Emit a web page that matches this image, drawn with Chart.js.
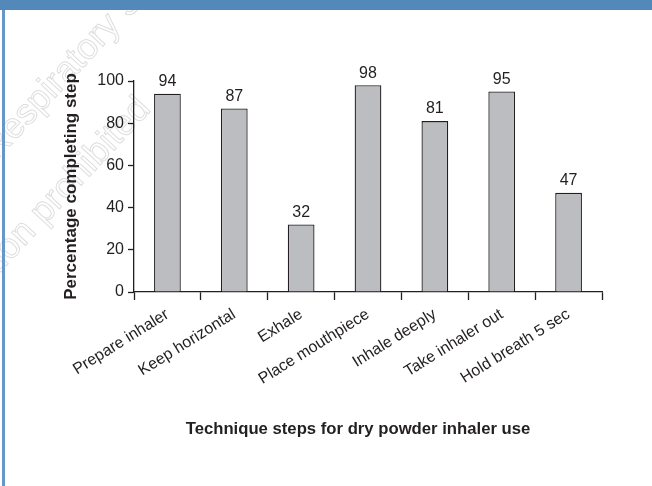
<!DOCTYPE html>
<html>
<head>
<meta charset="utf-8">
<script src="https://cdn.jsdelivr.net/npm/chart.js@4.4.0/dist/chart.umd.min.js"></script>
<style>
  html, body { margin: 0; padding: 0; background: #ffffff; }
  #wrap { width: 652px; height: 486px; position: relative; }
</style>
</head>
<body>
<div id="wrap"><canvas id="c" width="652" height="486"></canvas></div>
<script>
// ---- Data ----
const steps = ["Prepare inhaler", "Keep horizontal", "Exhale", "Place mouthpiece", "Inhale deeply", "Take inhaler out", "Hold breath 5 sec"];
const percentCompleting = [94, 87, 32, 98, 81, 95, 47];
const yTicks = [0, 20, 40, 60, 80, 100];
const yAxisTitle = "Percentage completing step";
const xAxisTitle = "Technique steps for dry powder inhaler use";
const watermarkLines = ["Respiratory Society", "reproduction prohibited"];

const INK = "#231f20";
const FONT = "'Liberation Sans', Arial, Helvetica, sans-serif";

function drawWatermark(ctx, text, prefix, ax, ay, angleDeg) {
  const a = angleDeg * Math.PI / 180;
  const w = ctx.measureText(prefix).width;
  const sx = ax - w * Math.cos(a);
  const sy = ay + w * Math.sin(a);
  ctx.save();
  ctx.translate(sx, sy);
  ctx.rotate(-a);
  ctx.strokeText(text, 0, 0);
  ctx.restore();
}

const decorPlugin = {
  id: "decor",
  beforeDraw(chart) {
    const ctx = chart.ctx;
    ctx.save();
    ctx.fillStyle = "#ffffff";
    ctx.fillRect(0, 0, chart.width, chart.height);
    // faint watermark (outlined)
    ctx.strokeStyle = "#dedede";
    ctx.lineWidth = 1;
    ctx.font = "36px " + FONT;
    ctx.textBaseline = "alphabetic";
    ctx.textAlign = "left";
    drawWatermark(ctx, watermarkLines[0], "R", 14, 142, 47);
    drawWatermark(ctx, watermarkLines[1], "reproducti", 10, 262, 47);
    ctx.restore();
  },
  afterDraw(chart) {
    const ctx = chart.ctx;
    ctx.save();
    // header band
    ctx.fillStyle = "#5289ba";
    ctx.fillRect(0, 0, chart.width, 10);
    // left border
    ctx.fillStyle = "#6797c8";
    ctx.fillRect(2, 10, 3, chart.height - 10);
    // value labels
    const meta = chart.getDatasetMeta(0);
    ctx.fillStyle = INK;
    ctx.font = "16px " + FONT;
    ctx.textAlign = "center";
    ctx.textBaseline = "bottom";
    meta.data.forEach((bar, i) => {
      ctx.fillText(String(percentCompleting[i]), bar.x, bar.y - 4);
    });
    // x axis title
    ctx.font = "bold 16.7px " + FONT;
    ctx.textBaseline = "middle";
    ctx.fillText(xAxisTitle, 358, 429);
    ctx.restore();
  }
};

new Chart(document.getElementById("c"), {
  type: "bar",
  data: {
    labels: steps,
    datasets: [{
      data: percentCompleting,
      backgroundColor: "#bcbdc0",
      borderColor: INK,
      borderWidth: 1.3,
      borderSkipped: "bottom",
      categoryPercentage: 1.0,
      barPercentage: 0.4
    }]
  },
  options: {
    responsive: false,
    animation: false,
    devicePixelRatio: 1,
    layout: { padding: { left: 61, right: 50, top: 81, bottom: 0 } },
    plugins: {
      legend: { display: false },
      tooltip: { enabled: false },
      title: { display: false }
    },
    scales: {
      x: {
        grid: {
          display: true,
          drawOnChartArea: false,
          drawTicks: true,
          tickLength: 8,
          tickColor: INK,
          tickWidth: 1.3,
          offset: true
        },
        border: { display: true, color: INK, width: 1.3 },
        ticks: {
          color: INK,
          font: { family: FONT, size: 16 },
          minRotation: 32,
          maxRotation: 32,
          autoSkip: false,
          padding: 5
        },
        afterFit(scale) { scale.height = 194; }
      },
      y: {
        min: 0,
        max: 100,
        afterBuildTicks(scale) { scale.ticks = yTicks.map(v => ({ value: v })); },
        grid: {
          display: true,
          drawOnChartArea: false,
          drawTicks: true,
          tickLength: 6,
          tickColor: INK,
          tickWidth: 1.3
        },
        border: { display: true, color: INK, width: 1.3 },
        ticks: {
          color: INK,
          font: { family: FONT, size: 16 },
          padding: 4
        },
        title: {
          display: true,
          text: yAxisTitle,
          color: INK,
          font: { family: FONT, size: 17, weight: "bold" },
          padding: 0
        },
        afterFit(scale) { scale.width = 73; }
      }
    }
  },
  plugins: [decorPlugin]
});
</script>
</body>
</html>
